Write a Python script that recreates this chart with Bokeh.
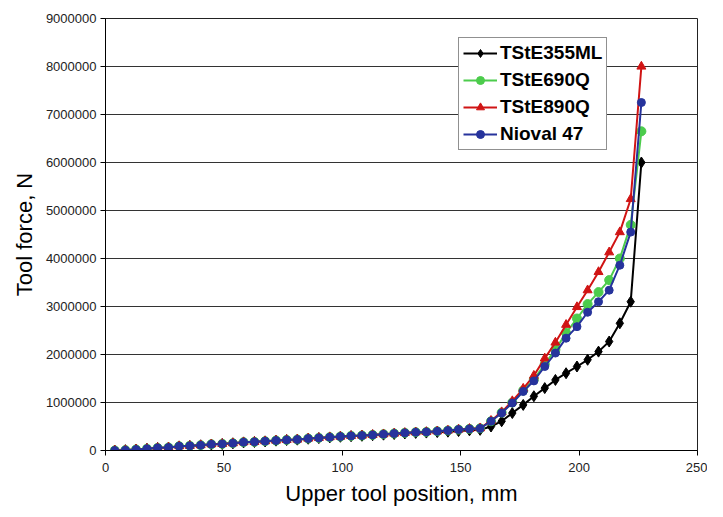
from bokeh.plotting import figure
from bokeh.models import FixedTicker, BasicTickFormatter, Range1d, Legend
from bokeh.embed import file_html
from bokeh.resources import INLINE

# Upper tool position, mm (one shared set of recorded positions)
position_mm = [3.9, 8.4, 12.9, 17.5, 22.0, 26.6, 31.1, 35.6, 40.2, 44.7,
               49.3, 53.8, 58.3, 62.9, 67.4, 72.0, 76.5, 81.0, 85.6, 90.1,
               94.7, 99.2, 103.7, 108.3, 112.8, 117.4, 121.9, 126.4, 131.0, 135.5,
               140.1, 144.6, 149.1, 153.7, 158.2, 162.8, 167.3, 171.8, 176.4, 180.9,
               185.5, 190.0, 194.5, 199.1, 203.6, 208.2, 212.7, 217.2, 221.8, 226.3]

# Tool force, N
tste355ml = [0, 7000, 20000, 35000, 52000, 60000, 85000, 95000, 108000, 125000,
             135000, 150000, 168000, 178000, 190000, 205000, 218000, 226000, 245000, 258000,
             272000, 286000, 298000, 306000, 318000, 330000, 343000, 355000, 366000, 373000,
             383000, 392000, 405000, 420000, 430000, 500000, 610000, 780000, 950000, 1130000,
             1300000, 1470000, 1610000, 1750000, 1890000, 2060000, 2270000, 2650000, 3100000, 6000000]

tste690q = [0, 8000, 21000, 36000, 55000, 63000, 90000, 98000, 111000, 130000,
            139000, 153000, 173000, 181000, 195000, 208000, 222000, 229000, 250000, 264000,
            278000, 291000, 305000, 312000, 326000, 340000, 354000, 368000, 381000, 388000,
            401000, 416000, 436000, 451000, 462000, 610000, 790000, 1000000, 1250000, 1480000,
            1800000, 2100000, 2450000, 2750000, 3050000, 3300000, 3550000, 4000000, 4700000, 6650000]

tste890q = [0, 8000, 21000, 36000, 56000, 63000, 91000, 98000, 112000, 131000,
            139000, 153000, 174000, 181000, 195000, 208000, 222000, 229000, 250000, 264000,
            278000, 291000, 305000, 312000, 326000, 340000, 354000, 368000, 381000, 388000,
            402000, 417000, 437000, 452000, 465000, 620000, 800000, 1030000, 1290000, 1560000,
            1920000, 2250000, 2620000, 2990000, 3340000, 3720000, 4130000, 4550000, 5240000, 8000000]

nioval47 = [0, 7000, 20000, 35000, 55000, 62000, 90000, 97000, 110000, 130000,
            138000, 152000, 173000, 180000, 194000, 207000, 221000, 228000, 249000, 263000,
            277000, 290000, 304000, 311000, 325000, 339000, 353000, 367000, 380000, 387000,
            400000, 415000, 435000, 450000, 460000, 610000, 780000, 990000, 1230000, 1450000,
            1750000, 2030000, 2340000, 2580000, 2880000, 3100000, 3340000, 3860000, 4550000, 7250000]

x_ticks = [0, 50, 100, 150, 200, 250]
y_ticks = [0, 1000000, 2000000, 3000000, 4000000, 5000000, 6000000, 7000000, 8000000, 9000000]

FONT = "Liberation Sans"

p = figure(frame_width=592, frame_height=432, output_backend="svg", toolbar_location=None,
           x_range=Range1d(0, 250), y_range=Range1d(0, 9000000),
           min_border_left=105, min_border_right=10, min_border_top=18, min_border_bottom=51)
p.background_fill_color = "white"
p.border_fill_color = "white"
p.outline_line_color = "#222222"
p.outline_line_width = 1

p.xgrid.visible = False
p.ygrid.ticker = FixedTicker(ticks=y_ticks)
p.ygrid.grid_line_color = "#333333"
p.ygrid.grid_line_width = 1

p.xaxis.ticker = FixedTicker(ticks=x_ticks)
p.yaxis.ticker = FixedTicker(ticks=y_ticks)
p.yaxis.formatter = BasicTickFormatter(use_scientific=False)
for ax in (p.xaxis, p.yaxis):
    ax.axis_line_color = "black"
    ax.major_tick_line_color = "black"
    ax.major_tick_out = 5
    ax.major_tick_in = 0
    ax.minor_tick_line_color = None
    ax.major_label_text_font = FONT
    ax.major_label_text_font_size = "13px"
    ax.major_label_text_color = "#222222"
    ax.axis_label_text_font = FONT
    ax.axis_label_text_font_size = "22px"
    ax.axis_label_text_font_style = "normal"
    ax.axis_label_text_color = "black"

p.xaxis.axis_label = "Upper tool position, mm"
p.yaxis.axis_label = "Tool force, N"
p.xaxis.major_label_standoff = 7
p.xaxis.axis_label_standoff = 6
p.yaxis.major_label_standoff = 4
p.yaxis.axis_label_standoff = 6

series = [
    ("TStE355ML", tste355ml, "#000000", "diamond", 11),
    ("TStE690Q", tste690q, "#4ccc4c", "circle", 9),
    ("TStE890Q", tste890q, "#d01414", "triangle", 9),
    ("Nioval 47", nioval47, "#26339c", "circle", 8),
]

items = []
for name, ys, color, marker, size in series:
    l = p.line(position_mm, ys, line_color=color, line_width=2)
    s = p.scatter(position_mm, ys, marker=marker, size=size, fill_color=color, line_color=color)
    items.append((name, [l, s]))

legend = Legend(items=items, location=(353, 300))
legend.border_line_color = "#222222"
legend.border_line_width = 1.5
legend.background_fill_color = "white"
legend.background_fill_alpha = 1
legend.label_text_font = FONT
legend.label_text_font_size = "19px"
legend.label_text_font_style = "bold"
legend.label_text_color = "black"
legend.glyph_width = 34
legend.glyph_height = 20
legend.label_height = 20
legend.spacing = 5
legend.padding = 4
legend.label_standoff = 3
legend.margin = 0
p.add_layout(legend, "center")

open("out.html", "w").write(file_html(p, INLINE))
